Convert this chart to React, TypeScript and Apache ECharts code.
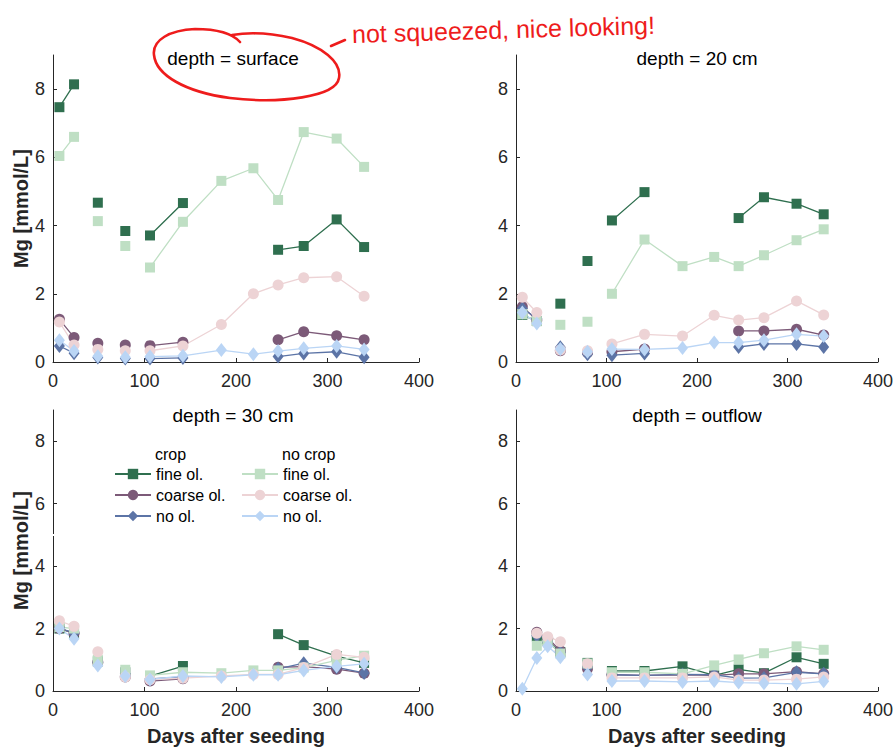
import React, { useEffect, useRef } from 'react';
import * as echarts from 'echarts';

// ---------- data ----------
const DAYS = [7, 23, 35, 49, 79, 106, 142, 184, 219, 246, 274, 310, 340];
// sampling gaps: lines are not drawn across these
const BREAK_AFTER = [49, 79];
const PANEL_TITLES = ['depth = surface', 'depth = 20 cm', 'depth = 30 cm', 'depth = outflow'];
const Y_TICKS = [0, 2, 4, 6, 8];
const X_TICKS = [0, 100, 200, 300, 400];
const SERIES_NAMES = ['crop fine ol.', 'crop coarse ol.', 'crop no ol.', 'no crop fine ol.', 'no crop coarse ol.', 'no crop no ol.'];
const LEGEND_HEADERS = ['crop', 'no crop'];
const Y_LABEL = 'Mg [mmol/L]';
const X_LABEL = 'Days after seeding';
const NOTE = 'not squeezed, nice looking!';

const SURFACE_CROP_FINE = [7.47, 8.14, null, 4.67, 3.84, 3.71, 4.66, null, null, 3.29, 3.40, 4.18, 3.37];
const SURFACE_CROP_COARSE = [1.25, 0.72, null, 0.55, 0.50, 0.48, 0.58, null, null, 0.65, 0.89, 0.77, 0.65];
const SURFACE_CROP_NO = [0.47, 0.26, null, 0.13, 0.10, 0.10, 0.12, null, null, 0.16, 0.25, 0.30, 0.14];
const SURFACE_NOCROP_FINE = [6.04, 6.60, null, 4.13, 3.40, 2.77, 4.11, 5.31, 5.68, 4.75, 6.74, 6.55, 5.72];
const SURFACE_NOCROP_COARSE = [1.17, 0.50, null, 0.37, 0.33, 0.33, 0.47, 1.10, 2.00, 2.26, 2.47, 2.50, 1.93];
const SURFACE_NOCROP_NO = [0.64, 0.32, null, 0.17, 0.14, 0.16, 0.18, 0.35, 0.23, 0.32, 0.40, 0.47, 0.37];

const CM20_CROP_FINE = [1.38, 1.20, null, 1.71, 2.96, 4.15, 4.98, null, null, 4.22, 4.83, 4.64, 4.33];
const CM20_CROP_COARSE = [1.62, 1.23, null, 0.33, 0.28, 0.30, 0.38, null, null, 0.91, 0.91, 0.96, 0.79];
const CM20_CROP_NO = [1.57, 1.28, null, 0.43, 0.23, 0.20, 0.25, null, null, 0.44, 0.53, 0.53, 0.44];
const CM20_NOCROP_FINE = [1.40, 1.20, null, 1.09, 1.18, 2.00, 3.59, 2.81, 3.08, 2.81, 3.13, 3.57, 3.89];
const CM20_NOCROP_COARSE = [1.90, 1.45, null, 0.35, 0.33, 0.53, 0.81, 0.76, 1.37, 1.23, 1.30, 1.79, 1.38];
const CM20_NOCROP_NO = [1.45, 1.13, null, 0.38, 0.30, 0.38, 0.37, 0.41, 0.57, 0.57, 0.64, 0.81, 0.76];

const CM30_CROP_FINE = [2.00, 1.85, null, 0.95, 0.60, 0.48, 0.80, null, null, 1.82, 1.47, 1.12, 0.90];
const CM30_CROP_COARSE = [2.00, 1.85, null, 0.92, 0.45, 0.32, 0.39, null, null, 0.76, 0.78, 0.70, 0.57];
const CM30_CROP_NO = [2.02, 1.85, null, 0.92, 0.55, 0.39, 0.45, null, null, 0.71, 0.89, 0.76, 0.58];
const CM30_NOCROP_FINE = [2.05, 2.00, null, 1.00, 0.68, 0.50, 0.60, 0.57, 0.66, 0.66, 0.75, 0.98, 1.13];
const CM30_NOCROP_COARSE = [2.25, 2.07, null, 1.26, 0.45, 0.36, 0.41, 0.48, 0.53, 0.53, 0.75, 1.17, 1.08];
const CM30_NOCROP_NO = [2.00, 1.67, null, 0.82, 0.48, 0.37, 0.48, 0.45, 0.52, 0.52, 0.66, 0.79, 0.87];

const OUT_CROP_FINE = [null, 1.75, 1.60, 1.25, 0.90, 0.64, 0.64, 0.79, 0.50, 0.69, 0.57, 1.08, 0.87];
const OUT_CROP_COARSE = [null, 1.88, 1.70, 1.29, 0.71, 0.52, 0.50, 0.52, 0.50, 0.55, 0.55, 0.62, 0.55];
const OUT_CROP_NO = [null, 1.77, 1.56, 1.24, 0.76, 0.52, 0.50, 0.53, 0.52, 0.41, 0.42, 0.60, 0.55];
const OUT_NOCROP_FINE = [null, 1.45, 1.60, 1.20, 0.88, 0.60, 0.60, 0.55, 0.82, 1.01, 1.21, 1.43, 1.32];
const OUT_NOCROP_COARSE = [null, 1.85, 1.74, 1.58, 0.87, 0.42, 0.42, 0.42, 0.45, 0.35, 0.35, 0.38, 0.45];
const OUT_NOCROP_NO = [0.07, 1.06, 1.43, 1.08, 0.53, 0.32, 0.32, 0.29, 0.32, 0.27, 0.25, 0.23, 0.31];

const PANEL_DATA = [
  [SURFACE_CROP_FINE, SURFACE_CROP_COARSE, SURFACE_CROP_NO, SURFACE_NOCROP_FINE, SURFACE_NOCROP_COARSE, SURFACE_NOCROP_NO],
  [CM20_CROP_FINE, CM20_CROP_COARSE, CM20_CROP_NO, CM20_NOCROP_FINE, CM20_NOCROP_COARSE, CM20_NOCROP_NO],
  [CM30_CROP_FINE, CM30_CROP_COARSE, CM30_CROP_NO, CM30_NOCROP_FINE, CM30_NOCROP_COARSE, CM30_NOCROP_NO],
  [OUT_CROP_FINE, OUT_CROP_COARSE, OUT_CROP_NO, OUT_NOCROP_FINE, OUT_NOCROP_COARSE, OUT_NOCROP_NO],
];

// ---------- styles ----------
const COLORS = ['#2f6f4f', '#7c5a78', '#5c74a6', '#bfdfc4', '#edd3d5', '#bad5f5'];
const SYMBOLS = ['rect', 'circle', 'diamond', 'rect', 'circle', 'diamond'];
const SYMBOL_SIZES: any[] = [10, 11, [11, 14], 10, 11, [11, 14]];
const FONT = '"Liberation Sans", Arial, Helvetica, sans-serif';
const AXIS_COLOR = '#262626';
const GRIDS = [
  { left: 53, top: 55, width: 366, height: 307 },
  { left: 516, top: 55, width: 367, height: 307 },
  { left: 53, top: 410, width: 366, height: 282 },
  { left: 516, top: 410, width: 367, height: 282 },
];
const TITLE_POS = [[233, 58], [697, 58], [233, 415], [697, 415]];

const ELLIPSE_D =
  'M 240 42 C 232 33 215 29 195 29 C 170 30 152 40 154 55 C 156 75 185 92 230 98 ' +
  'C 280 104 336 97 339 78 C 342 62 322 46 292 38 C 270 33 250 32 232 35';

let shapeRegistered = false;
function ensureShape() {
  if (shapeRegistered) return;
  echarts.graphic.registerShape('annotLoop', (echarts.graphic as any).extendPath(ELLIPSE_D, {}));
  shapeRegistered = true;
}

function toData(values: (number | null)[]) {
  const out: any[] = [];
  values.forEach((v, i) => {
    out.push([DAYS[i], v == null ? '-' : v]);
    if (BREAK_AFTER.includes(DAYS[i]) && i < DAYS.length - 1) {
      out.push([(DAYS[i] + DAYS[i + 1]) / 2, '-']);
    }
  });
  return out;
}

export default function App() {
  const ref = useRef<HTMLDivElement>(null);
  useEffect(() => {
    if (!ref.current) return;
    ensureShape();
    const chart = echarts.init(ref.current, undefined, { renderer: 'svg' });

    const xAxis = GRIDS.map((_, i) => ({
      type: 'value',
      gridIndex: i,
      min: 0,
      max: 400,
      interval: 100,
      splitLine: { show: false },
      axisLine: { show: true, onZero: false, lineStyle: { color: AXIS_COLOR, width: 1 } },
      axisTick: { show: true, inside: true, length: 4, lineStyle: { color: AXIS_COLOR } },
      axisLabel: { fontSize: 18, color: AXIS_COLOR, fontFamily: FONT, margin: 10, customValues: X_TICKS },
      name: i >= 2 ? X_LABEL : '',
      nameLocation: 'middle',
      nameGap: 35,
      nameTextStyle: { fontSize: 20, fontWeight: 'bold', color: AXIS_COLOR, fontFamily: FONT },
    }));
    const yAxis = GRIDS.map((_, i) => ({
      type: 'value',
      gridIndex: i,
      min: 0,
      max: 9,
      interval: 2,
      splitLine: { show: false },
      axisLine: { show: true, onZero: false, lineStyle: { color: AXIS_COLOR, width: 1 } },
      axisTick: { show: true, inside: true, length: 4, lineStyle: { color: AXIS_COLOR }, customValues: Y_TICKS },
      axisLabel: { fontSize: 18, color: AXIS_COLOR, fontFamily: FONT, margin: 8, customValues: Y_TICKS },
      name: i % 2 === 0 ? Y_LABEL : '',
      nameLocation: 'middle',
      nameGap: 22,
      nameTextStyle: { fontSize: 20, fontWeight: 'bold', color: AXIS_COLOR, fontFamily: FONT },
    }));

    const series: any[] = [];
    PANEL_DATA.forEach((panel, p) => {
      panel.forEach((vals, s) => {
        series.push({
          type: 'line',
          name: SERIES_NAMES[s],
          xAxisIndex: p,
          yAxisIndex: p,
          data: toData(vals),
          connectNulls: false,
          symbol: SYMBOLS[s],
          symbolSize: SYMBOL_SIZES[s],
          showSymbol: true,
          showAllSymbol: true,
          itemStyle: { color: COLORS[s], borderWidth: 0 },
          lineStyle: { color: COLORS[s], width: 1.3 },
          emphasis: { disabled: true },
          silent: true,
        });
      });
    });

    const legendCommon = {
      orient: 'vertical',
      top: 461,
      itemWidth: 36,
      itemHeight: 13,
      itemGap: 5,
      selectedMode: false,
      textStyle: { fontSize: 16, color: '#000', fontFamily: FONT },
      formatter: (name: string) => name.replace(/^(no crop|crop) /, ''),
    };

    const graphic: any[] = [];
    PANEL_TITLES.forEach((t, i) => {
      graphic.push({
        type: 'text',
        x: TITLE_POS[i][0],
        y: TITLE_POS[i][1],
        silent: true,
        style: { text: t, fontSize: 19, fontFamily: FONT, fill: '#000', align: 'center', verticalAlign: 'middle' },
      });
    });
    graphic.push({
      type: 'text', x: 155, y: 454, silent: true,
      style: { text: LEGEND_HEADERS[0], fontSize: 16, fontFamily: FONT, fill: '#000', align: 'left', verticalAlign: 'middle' },
    });
    graphic.push({
      type: 'text', x: 282, y: 454, silent: true,
      style: { text: LEGEND_HEADERS[1], fontSize: 16, fontFamily: FONT, fill: '#000', align: 'left', verticalAlign: 'middle' },
    });
    // small gap in the 30 cm y-axis line
    graphic.push({ type: 'rect', shape: { x: 51, y: 534, width: 4, height: 2 }, style: { fill: '#fff' }, silent: true, z: 100 });
    // annotation
    graphic.push({
      type: 'annotLoop', x: 0, y: 0, silent: true, z: 100,
      style: { fill: 'none', stroke: '#ee1c1c', lineWidth: 2.6, lineCap: 'round', lineJoin: 'round' },
    });
    graphic.push({
      type: 'line', silent: true, z: 100,
      shape: { x1: 331, y1: 46, x2: 345, y2: 40 },
      style: { stroke: '#ee1c1c', lineWidth: 2.6, lineCap: 'round' },
    });
    graphic.push({
      type: 'text', x: 352, y: 34, rotation: 0.03, silent: true, z: 100,
      style: { text: NOTE, fontSize: 25, fontFamily: FONT, fill: '#ee1c1c', align: 'left', verticalAlign: 'middle' },
    });

    chart.setOption({
      animation: false,
      backgroundColor: '#fff',
      grid: GRIDS,
      xAxis,
      yAxis,
      series,
      legend: [
        { ...legendCommon, left: 109, data: SERIES_NAMES.slice(0, 3) },
        { ...legendCommon, left: 236, data: SERIES_NAMES.slice(3, 6) },
      ],
      graphic,
    });
    return () => chart.dispose();
  }, []);
  return <div ref={ref} style={{ position: 'fixed', left: 0, top: 0, width: 896, height: 747, background: '#fff' }} />;
}
